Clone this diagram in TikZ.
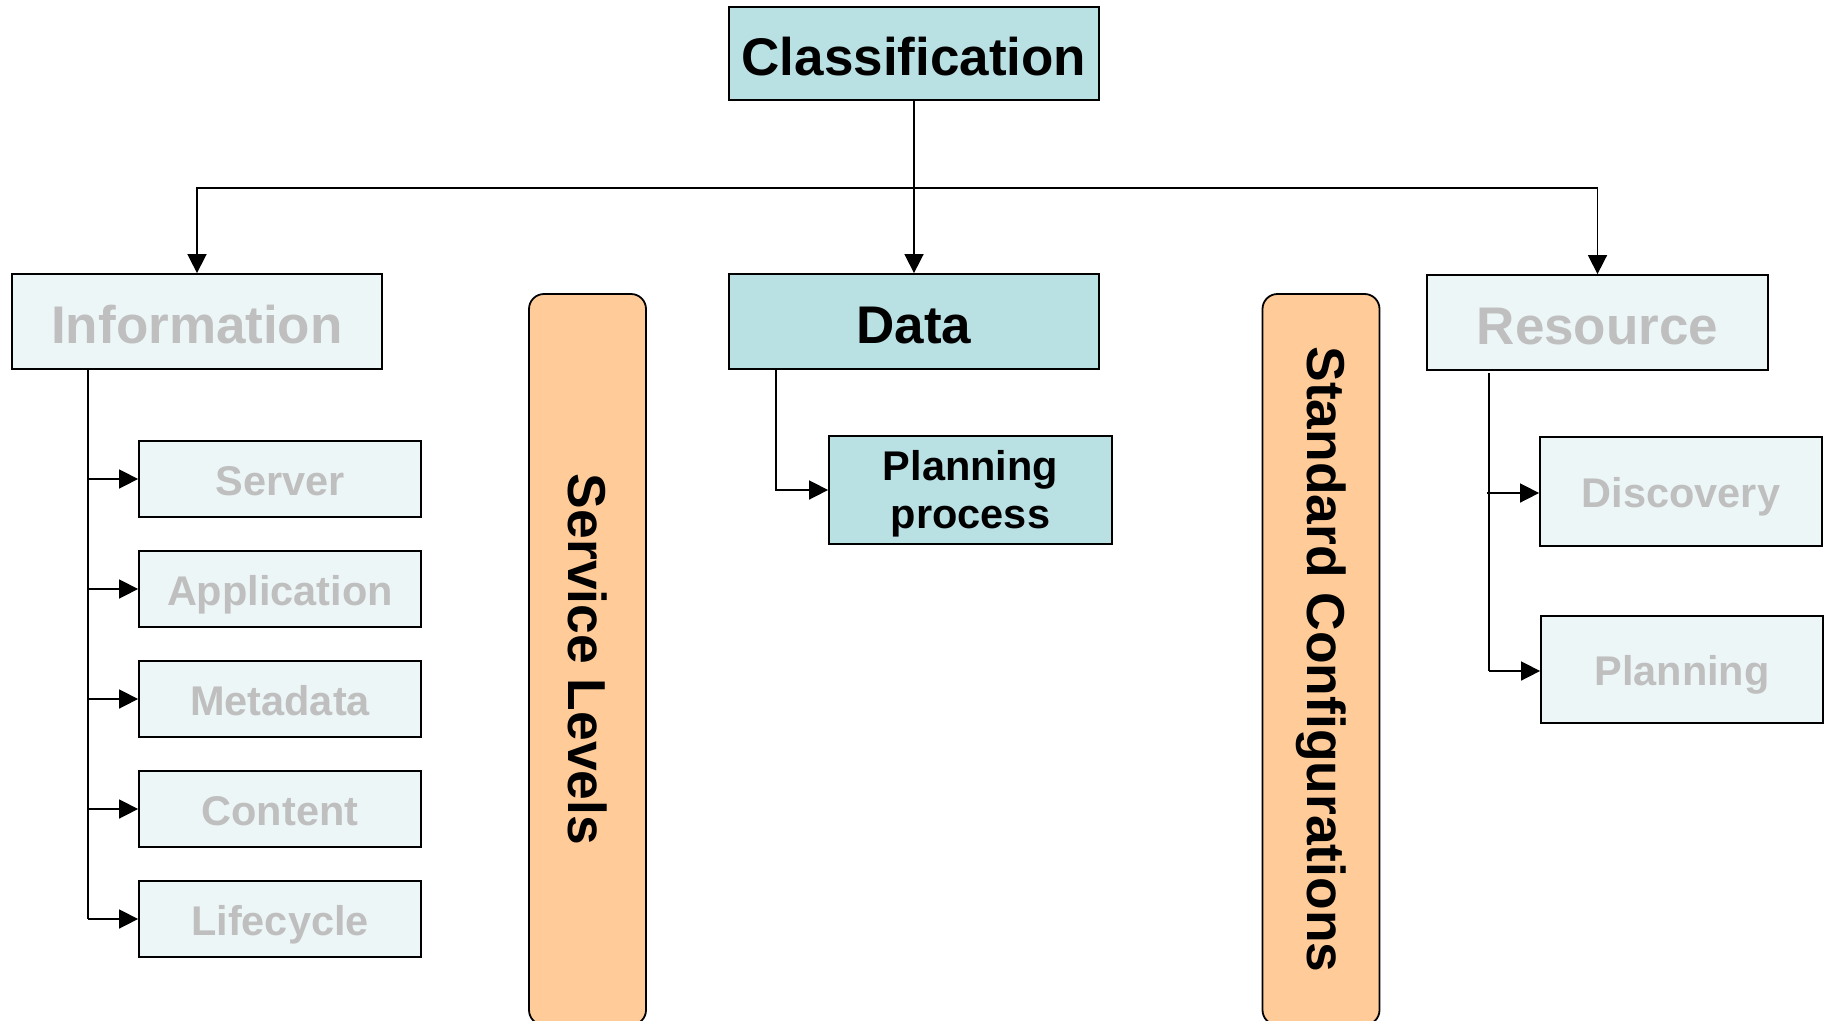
\documentclass[tikz,border=0pt]{standalone}
\usepackage{fontspec}
\setmainfont{Liberation Sans}
\usetikzlibrary{arrows.meta}
\definecolor{teal1}{HTML}{B9E0E3}
\definecolor{pale}{HTML}{EDF6F7}
\definecolor{graytxt}{HTML}{BFBFBF}
\definecolor{orng}{HTML}{FFCC99}
\tikzset{
  boxbase/.style={draw=black, line width=1.8pt, inner sep=0pt},
  box/.style={boxbase, font=\bfseries\fontsize{41.5}{48}\selectfont, text height=40.8pt, text depth=8.8pt},
  bigbox/.style={boxbase, font=\bfseries\fontsize{53}{60}\selectfont, text height=54.2pt, text depth=11.2pt},
  dark/.style={fill=teal1, text=black},
  light/.style={fill=pale, text=graytxt},
  bar/.style={draw=black, line width=1.8pt, fill=orng, rounded corners=15pt, inner sep=0pt, rotate=-90,
    minimum width=731pt, minimum height=117pt, font=\bfseries\fontsize{53.4}{60}\selectfont},
  conn/.style={draw=black, line width=1.6pt},
  arr/.style={conn, -{Triangle[length=19pt,width=19pt]}}
}
\begin{document}
\begin{tikzpicture}[x=1pt,y=-1pt]
\clip (0,0) rectangle (1831,1020);
\fill[white] (0,0) rectangle (1831,1020);
% top level
\node[bigbox,dark,minimum width=370pt,minimum height=93pt] (cls) at (914,53.5) {Classification};
\node[bigbox,light,minimum width=370pt,minimum height=95pt] (info) at (197,321.5) {Information};
\node[bigbox,dark,minimum width=370pt,minimum height=95pt] (data) at (914,321.5) {Data};
\node[bigbox,light,minimum width=341pt,minimum height=95pt] (res) at (1597.5,322.5) {Resource};
% information children
\node[box,light,minimum width=282pt,minimum height=76pt] (srv) at (280,479) {Server};
\node[box,light,minimum width=282pt,minimum height=76pt] (app) at (280,589) {Application};
\node[box,light,minimum width=282pt,minimum height=76pt] (meta) at (280,699) {Metadata};
\node[box,light,minimum width=282pt,minimum height=76pt] (cont) at (280,809) {Content};
\node[box,light,minimum width=282pt,minimum height=76pt] (life) at (280,919) {Lifecycle};
% data child
\node[boxbase,dark,align=center,font=\bfseries\fontsize{41.5}{47.5}\selectfont,minimum width=283pt,minimum height=108pt] (pp) at (970.5,490)
  {\rule{0pt}{37.6pt}Planning\\process\rule[-8.8pt]{0pt}{8.8pt}};
% resource children
\node[box,light,minimum width=282pt,minimum height=109pt] (disc) at (1681,491.5) {Discovery};
\node[box,light,minimum width=282pt,minimum height=107pt] (plan) at (1682,669.5) {Planning};
% orange bars
\node[bar] (svc) at (587.5,659.5) {Service Levels};
\node[bar] (std) at (1321,659.5) {Standard Configurations};
% connectors
\coordinate (bus) at (914,188);
\draw[conn] (cls.south) -- (bus);
\draw[arr] (bus) -- (data.north);
\draw[arr] (bus) -| (info.north);
\draw[arr] (bus) -| (res.north);
\coordinate (itop) at (88,369);
\coordinate (ibot) at (88,919);
\draw[conn] (itop) -- (ibot);
\draw[arr] (itop |- srv.west) -- (srv.west);
\draw[arr] (itop |- app.west) -- (app.west);
\draw[arr] (itop |- meta.west) -- (meta.west);
\draw[arr] (itop |- cont.west) -- (cont.west);
\draw[arr] (ibot) -- (life.west);
\coordinate (dtop) at (776,369);
\draw[arr] (dtop) |- (pp.west);
\coordinate (rtop) at (1489,373);
\coordinate (rbot) at (1489,671);
\draw[conn] (rtop) -- (rbot);
\draw[arr] (1487,493) -- (disc.west |- 0,493);
\draw[arr] (rbot) -- (plan.west |- rbot);
\end{tikzpicture}
\end{document}
